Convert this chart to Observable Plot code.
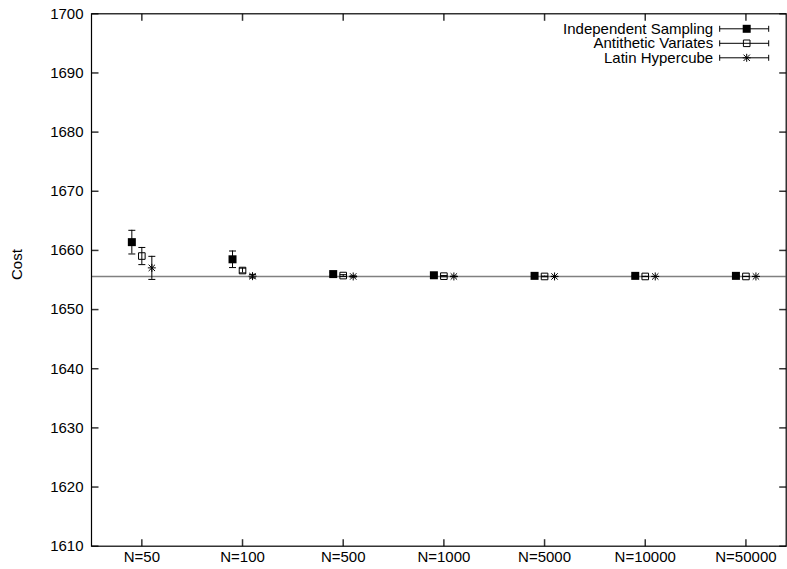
<!DOCTYPE html>
<html>
<head>
<meta charset="utf-8">
<script src="https://cdn.jsdelivr.net/npm/d3@7"></script>
<script src="https://cdn.jsdelivr.net/npm/@observablehq/plot@0.6"></script>
<style>
  body { margin: 0; background: #fff; }
  svg { display: block; }
</style>
</head>
<body>
<div id="chart"></div>
<script>
// Sample sizes along the x axis
const sampleSizes = ["N=50", "N=100", "N=500", "N=1000", "N=5000", "N=10000", "N=50000"];
const methods = ["Independent Sampling", "Antithetic Variates", "Latin Hypercube"];

// Estimated cost and error half-widths per method
const independentCost = [1661.4, 1658.5, 1656.0, 1655.8, 1655.7, 1655.7, 1655.7];
const independentErr  = [2.0, 1.4, 0.3, 0.2, 0.1, 0.05, 0.02];
const antitheticCost  = [1659.05, 1656.6, 1655.75, 1655.65, 1655.6, 1655.6, 1655.6];
const antitheticErr   = [1.45, 0.4, 0.15, 0.1, 0.05, 0.02, 0.01];
const latinCost       = [1657.05, 1655.65, 1655.6, 1655.6, 1655.6, 1655.6, 1655.6];
const latinErr        = [1.95, 0.3, 0.1, 0.05, 0.02, 0.01, 0.01];

// Reference (true) cost
const referenceCost = 1655.6;

const yTicks = [1610, 1620, 1630, 1640, 1650, 1660, 1670, 1680, 1690, 1700];
const xTicks = sampleSizes.map((_, i) => i);

// Symbols (size = PI * r^2 in Plot's dot mark)
const radius = (size) => Math.sqrt(size / Math.PI);
const filledSquare = { draw(ctx, size) { const r = radius(size); ctx.rect(-r, -r, 2 * r, 2 * r); } };
const openSquare = filledSquare;
const star = {
  draw(ctx, size) {
    const r = radius(size), q = r * 0.8;
    ctx.moveTo(-r, 0); ctx.lineTo(r, 0);
    ctx.moveTo(0, -r); ctx.lineTo(0, r);
    ctx.moveTo(-q, -q); ctx.lineTo(q, q);
    ctx.moveTo(-q, q); ctx.lineTo(q, -q);
  }
};
const cap = { draw(ctx, size) { const r = radius(size); ctx.moveTo(-r, 0); ctx.lineTo(r, 0); } };
const legendBar = {
  draw(ctx, size) {
    const r = radius(size);
    ctx.moveTo(-r, 0); ctx.lineTo(r, 0);
    ctx.moveTo(-r, -3); ctx.lineTo(-r, 3);
    ctx.moveTo(r, -3); ctx.lineTo(r, 3);
  }
};
// Inward tick marks for the frame
const tickRight = { draw(ctx, size) { ctx.moveTo(0, 0); ctx.lineTo(radius(size), 0); } };
const tickLeft  = { draw(ctx, size) { ctx.moveTo(0, 0); ctx.lineTo(-radius(size), 0); } };
const tickUp    = { draw(ctx, size) { ctx.moveTo(0, 0); ctx.lineTo(0, -radius(size)); } };
const tickDown  = { draw(ctx, size) { ctx.moveTo(0, 0); ctx.lineTo(0, radius(size)); } };

const series = [
  { name: methods[0], cost: independentCost, err: independentErr, symbol: filledSquare, fill: "black", stroke: "none", r: 4, dx: -10 },
  { name: methods[1], cost: antitheticCost, err: antitheticErr, symbol: openSquare, fill: "none", stroke: "black", r: 3.3, dx: 0 },
  { name: methods[2], cost: latinCost, err: latinErr, symbol: star, fill: "none", stroke: "black", r: 4, dx: 10 }
];

const rows = (s) => s.cost.map((v, i) => ({ i, v, e: s.err[i] }));

const marks = [
  Plot.ruleY([referenceCost], { stroke: "#808080", strokeWidth: 1.5 })
];

for (const s of series) {
  const data = rows(s);
  marks.push(
    Plot.ruleX(data, { x: "i", y1: (d) => d.v - d.e, y2: (d) => d.v + d.e, dx: s.dx, stroke: "black", strokeWidth: 1 }),
    Plot.dot(data, { x: "i", y: (d) => d.v + d.e, dx: s.dx, symbol: cap, r: 3.5, stroke: "black", strokeWidth: 1 }),
    Plot.dot(data, { x: "i", y: (d) => d.v - d.e, dx: s.dx, symbol: cap, r: 3.5, stroke: "black", strokeWidth: 1 }),
    Plot.dot(data, { x: "i", y: "v", dx: s.dx, symbol: s.symbol, r: s.r, fill: s.fill, stroke: s.stroke, strokeWidth: 1 })
  );
}

// Legend inside the top-right corner
series.forEach((s, k) => {
  const dy = 15 + 14.5 * k;
  marks.push(
    Plot.text([s.name], { text: (d) => d, frameAnchor: "top-right", textAnchor: "end", lineAnchor: "middle", dx: -73, dy, fill: "black" }),
    Plot.dot([s.name], { frameAnchor: "top-right", dx: -42, dy, symbol: legendBar, r: 24.5, stroke: "black", strokeWidth: 1 }),
    Plot.dot([s.name], { frameAnchor: "top-right", dx: -39.5, dy, symbol: s.symbol, r: s.r, fill: s.fill, stroke: s.stroke, strokeWidth: 1 })
  );
});

marks.push(
  // tick marks on all four sides, pointing inward
  Plot.dot(yTicks, { y: (d) => d, frameAnchor: "left", symbol: tickRight, r: 7, stroke: "#333" }),
  Plot.dot(yTicks, { y: (d) => d, frameAnchor: "right", symbol: tickLeft, r: 7, stroke: "#333" }),
  Plot.dot(xTicks, { x: (d) => d, frameAnchor: "bottom", symbol: tickUp, r: 7, stroke: "#333" }),
  Plot.dot(xTicks, { x: (d) => d, frameAnchor: "top", symbol: tickDown, r: 7, stroke: "#333" }),
  Plot.axisY(yTicks, { anchor: "left", tickSize: 0, tickPadding: 8, tickFormat: (d) => String(d), label: null }),
  Plot.axisX(xTicks, { anchor: "bottom", tickSize: 0, tickPadding: 5, tickFormat: (i) => sampleSizes[i], label: null }),
  Plot.text(["Cost"], { text: (d) => d, frameAnchor: "left", lineAnchor: "middle", dx: -74, rotate: -90, fill: "black" }),
  Plot.frame({ stroke: "black", strokeWidth: 1.2 })
);

const chart = Plot.plot({
  width: 787,
  height: 569,
  marginLeft: 91,
  marginRight: 1.3,
  marginTop: 13.3,
  marginBottom: 23.3,
  style: { fontFamily: "'Liberation Sans', Arial, sans-serif", fontSize: "15px", color: "black", background: "white" },
  x: { type: "linear", domain: [-0.5, 6.4] },
  y: { domain: [1610, 1700] },
  marks
});

document.getElementById("chart").appendChild(chart);
</script>
</body>
</html>
